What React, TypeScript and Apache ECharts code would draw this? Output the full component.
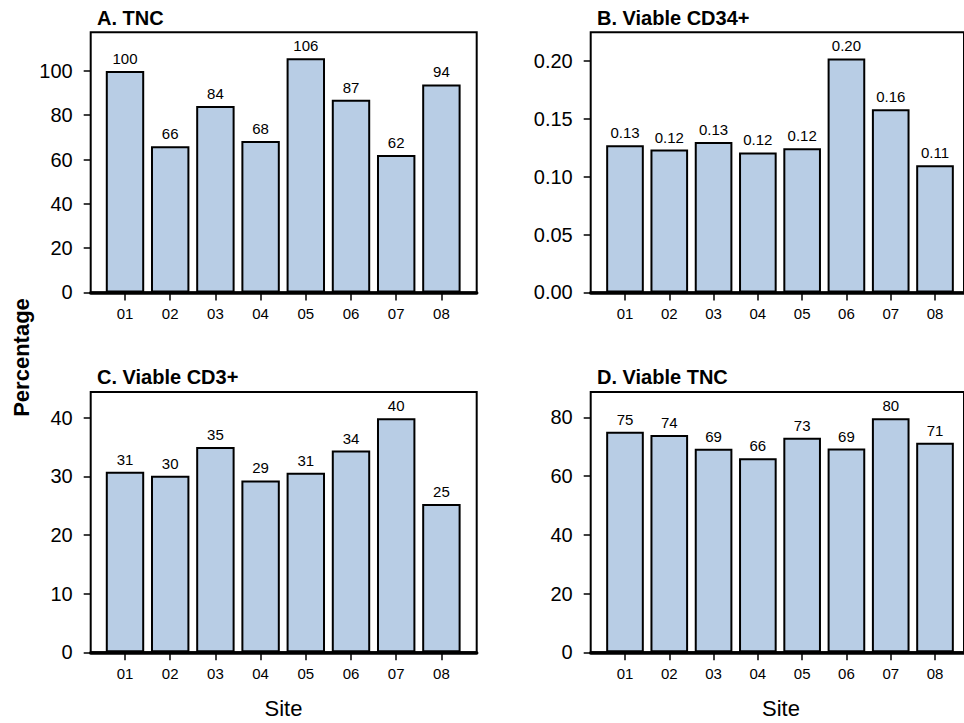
import React, { useEffect, useRef } from "react";
import * as echarts from "echarts";

const sites = ["01", "02", "03", "04", "05", "06", "07", "08"];
const tncValues = [100, 66, 84.2, 68.4, 105.7, 87, 62, 93.9];
const cd34Values = [0.1273, 0.1235, 0.1301, 0.121, 0.1247, 0.2023, 0.1584, 0.11];
const cd3Values = [30.8, 30.1, 35.0, 29.3, 30.6, 34.4, 39.9, 25.3];
const viableTncValues = [75.1, 74.0, 69.3, 66.1, 73.1, 69.4, 79.7, 71.4];

const tncTicks = [0, 20, 40, 60, 80, 100];
const cd34Ticks = [0, 0.05, 0.1, 0.15, 0.2];
const cd3Ticks = [0, 10, 20, 30, 40];
const viableTncTicks = [0, 20, 40, 60, 80];

const titles = ["A. TNC", "B. Viable CD34+", "C. Viable CD3+", "D. Viable TNC"];
const yTitle = "Percentage";
const xTitle = "Site";

const FONT = '"Liberation Sans", Arial, Helvetica, sans-serif';
const BAR_COLOR = "#b8cde5";

type Panel = {
  title: string;
  values: number[];
  ticks: number[];
  max: number;
  decimals: number;
  frameLeft: number;
  frameWidth: number;
  barLeft: number;
  barWidth: number;
  top: number;
  height: number;
  titleX: number;
  titleY: number;
};

const panels: Panel[] = [
  { title: titles[0], values: tncValues, ticks: tncTicks, max: 117.5, decimals: 0,
    frameLeft: 90.7, frameWidth: 386, barLeft: 102.4, barWidth: 361.6, top: 32.2, height: 260.2, titleX: 97, titleY: 17.5 },
  { title: titles[1], values: cd34Values, ticks: cd34Ticks, max: 0.225, decimals: 2,
    frameLeft: 590.7, frameWidth: 380, barLeft: 602.85, barWidth: 354.3, top: 32.2, height: 260.2, titleX: 597, titleY: 17.5 },
  { title: titles[2], values: cd3Values, ticks: cd3Ticks, max: 44.4, decimals: 0,
    frameLeft: 90.7, frameWidth: 386, barLeft: 102.4, barWidth: 361.6, top: 391.9, height: 260.4, titleX: 97, titleY: 377 },
  { title: titles[3], values: viableTncValues, ticks: viableTncTicks, max: 88.7, decimals: 0,
    frameLeft: 590.7, frameWidth: 380, barLeft: 602.85, barWidth: 354.3, top: 391.9, height: 260.4, titleX: 597, titleY: 377 },
];

function buildOption() {
  const grid: any[] = [];
  const xAxis: any[] = [];
  const yAxis: any[] = [];
  const series: any[] = [];
  const graphic: any[] = [];

  panels.forEach((p, i) => {
    const fi = 2 * i;
    const bi = 2 * i + 1;
    grid.push({
      left: p.frameLeft, top: p.top, width: p.frameWidth, height: p.height,
      show: true, borderColor: "#000", borderWidth: 2, backgroundColor: "transparent",
    });
    grid.push({ left: p.barLeft, top: p.top, width: p.barWidth, height: p.height, show: false });

    xAxis.push({
      type: "value", gridIndex: fi, min: 0, max: 1,
      axisLine: { show: true, lineStyle: { color: "#000", width: 3.5 } },
      axisTick: { show: false }, axisLabel: { show: false }, splitLine: { show: false },
    });
    yAxis.push({
      type: "value", gridIndex: fi, min: 0, max: p.max,
      axisLine: { show: false },
      axisTick: { show: true, inside: false, length: 7, customValues: p.ticks, lineStyle: { color: "#000", width: 1.5 } },
      axisLabel: {
        customValues: p.ticks, margin: 18, fontSize: 20, color: "#000", fontFamily: FONT,
        formatter: (v: number) => v.toFixed(p.decimals),
      },
      splitLine: { show: false },
    });
    xAxis.push({
      type: "category", gridIndex: bi, data: sites,
      axisLine: { show: false },
      axisTick: { show: true, alignWithLabel: true, length: 8, lineStyle: { color: "#000", width: 1.5 } },
      axisLabel: { fontSize: 15, margin: 14, color: "#000", fontFamily: FONT },
      splitLine: { show: false },
    });
    yAxis.push({ type: "value", gridIndex: bi, min: 0, max: p.max, show: false, splitLine: { show: false } });

    series.push({
      type: "bar", xAxisIndex: bi, yAxisIndex: bi, data: p.values, barWidth: "85%",
      itemStyle: { color: BAR_COLOR, borderColor: "#000", borderWidth: 2 },
      label: {
        show: true, position: "top", distance: 5, fontSize: 15, color: "#000", fontFamily: FONT,
        formatter: (d: any) => Number(d.value).toFixed(p.decimals),
      },
    });

    graphic.push({
      type: "text", x: p.titleX, y: p.titleY,
      style: { text: p.title, fontSize: 20, fontWeight: "bold", fill: "#000", fontFamily: FONT, align: "left", verticalAlign: "middle" },
    });
  });

  graphic.push({
    type: "text", x: 21, y: 357.5, rotation: Math.PI / 2,
    style: { text: yTitle, fontSize: 22, fontWeight: "bold", fill: "#000", fontFamily: FONT, align: "center", verticalAlign: "middle" },
  });
  graphic.push({
    type: "text", x: 283.5, y: 708,
    style: { text: xTitle, fontSize: 22, fill: "#000", fontFamily: FONT, align: "center", verticalAlign: "middle" },
  });
  graphic.push({
    type: "text", x: 781, y: 708,
    style: { text: xTitle, fontSize: 22, fill: "#000", fontFamily: FONT, align: "center", verticalAlign: "middle" },
  });

  return {
    animation: false,
    backgroundColor: "#fff",
    textStyle: { fontFamily: FONT },
    grid, xAxis, yAxis, series, graphic,
  };
}

export default function App() {
  const ref = useRef<HTMLDivElement>(null);
  useEffect(() => {
    if (!ref.current) return;
    const chart = echarts.init(ref.current, undefined, { renderer: "svg" });
    chart.setOption(buildOption() as any);
    return () => chart.dispose();
  }, []);
  return (
    <div
      ref={ref}
      style={{ position: "absolute", left: 0, top: 0, width: 964, height: 723, background: "#fff" }}
    />
  );
}
